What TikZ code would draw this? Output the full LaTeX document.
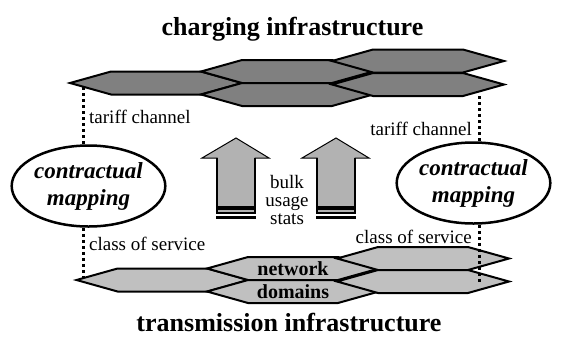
\documentclass[tikz,border=0pt]{standalone}
\usepackage{fontspec}
\setmainfont{Liberation Serif}
\newfontfamily\timesfont{Liberation Serif}
\usetikzlibrary{shapes,positioning}
\definecolor{darkcell}{RGB}{128,128,128}
\definecolor{lightcell}{RGB}{192,192,192}
\definecolor{arrowfill}{RGB}{178,178,178}

\begin{document}
\begin{tikzpicture}[x=1pt, y=-1pt,
    cell/.style={draw, line width=2pt, signal, signal to=east and west,
        signal pointer angle=31.3, minimum width=172pt, minimum height=23pt,
        inner sep=0pt, font=\timesfont\fontsize{20}{22}\selectfont\bfseries},
    charging/.style={cell, fill=darkcell},
    transmission/.style={cell, fill=lightcell},
    mapping/.style={draw, ellipse, line width=2.5pt, minimum width=143pt,
        minimum height=81pt, inner sep=0pt, align=center,
        font=\timesfont\fontsize{23}{27}\selectfont\bfseries\itshape},
    infra/.style={font=\timesfont\fontsize{26}{30}\selectfont\bfseries, inner sep=0pt},
    linktext/.style={font=\timesfont\fontsize{19}{22}\selectfont, inner sep=0pt},
    channel/.style={line width=3pt, dash pattern=on 3pt off 3pt}]
  \useasboundingbox (0,0) rectangle (561,360);

  % charging side
  \node[charging] (chA) at (156, 83) {};
  \node[charging] (chB) at (287, 71.5) {};
  \node[charging] (chC) at (287, 94.5) {};
  \node[charging] (chD) at (418, 61) {};
  \node[charging] (chE) at (418, 84.5) {};
  \node[infra, anchor=base] (chtitle) at (292.5, 35) {charging infrastructure};

  % transmission side
  \node[transmission] (trF) at (162.5, 280) {};
  \node[transmission] (trG) at (293, 268.5) {network};
  \node[transmission] (trH) at (293, 291.5) {domains};
  \node[transmission] (trI) at (423, 258.5) {};
  \node[transmission] (trJ) at (423, 281.5) {};
  \node[infra, anchor=base] (trtitle) at (289, 331) {transmission infrastructure};

  % mappings
  \node[mapping] (lmap) at (88.5, 186) {contractual\\mapping};
  \node[mapping] (rmap) at (473.5, 183) {contractual\\mapping};

  \coordinate (ltop) at (83, 87);
  \coordinate (lbot) at (83, 278);
  \coordinate (rtop) at (479, 96);
  \coordinate (rbot) at (479, 283);
  \draw[channel] (ltop) -- (ltop |- lmap.north);
  \draw[channel] (lbot |- lmap.south) -- (lbot);
  \draw[channel] (rtop) -- (rtop |- rmap.north);
  \draw[channel] (rbot |- rmap.south) -- (rbot);

  \node[linktext, anchor=base west] (ltariff) at (89, 123) {tariff channel};
  \node[linktext, anchor=base east] (rtariff) at (472, 135) {tariff channel};
  \node[linktext, anchor=base west] (lclass) at (89, 250) {class of service};
  \node[linktext, anchor=base east] (rclass) at (472, 243) {class of service};

  % usage arrows
  \foreach \ax in {0, 100} {
    \begin{scope}[xshift=\ax pt]
      \filldraw[fill=arrowfill, line width=1pt] (217,213.5) -- (217,158) -- (202,158)
        -- (236,138) -- (269,158) -- (255,158) -- (255,213.5);
      \draw[line width=2pt] (217,158) -- (217,213.5) (255,158) -- (255,213.5);
      \fill (216,206) rectangle (256,209.5);
      \fill (216,211.5) rectangle (256,213.5);
      \fill (216,216) rectangle (256,218.5);
    \end{scope}
  }
  \node[linktext, align=center, font=\timesfont\fontsize{19}{18}\selectfont] (stats) at (287, 200)
       {bulk\\usage\\stats};
\end{tikzpicture}
\end{document}
